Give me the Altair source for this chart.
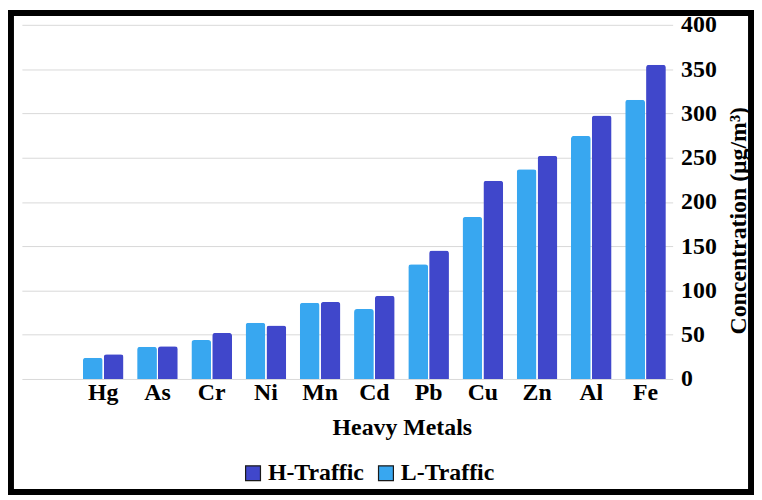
import altair as alt
import pandas as pd

metals = ["Hg", "As", "Cr", "Ni", "Mn", "Cd", "Pb", "Cu", "Zn", "Al", "Fe"]
l_traffic = [24, 36.5, 44, 63.5, 86, 79, 129.5, 183, 237, 274.5, 315.5]
h_traffic = [28, 37, 52, 60.5, 87, 94, 145, 224, 252, 297.5, 355]
series = ["H-Traffic", "L-Traffic"]
colors = ["#4047CB", "#38A7F0"]
y_ticks = [0, 50, 100, 150, 200, 250, 300, 350, 400]

rows = []
for m, lv, hv in zip(metals, l_traffic, h_traffic):
    rows.append({"metal": m, "series": "L-Traffic", "value": lv})
    rows.append({"metal": m, "series": "H-Traffic", "value": hv})
df = pd.DataFrame(rows)

FONT = "Liberation Serif"
FS = 24

bars = alt.Chart(df).mark_bar(cornerRadiusTopLeft=3, cornerRadiusTopRight=3).encode(
    x=alt.X(
        "metal:N",
        sort=None,
        scale=alt.Scale(domain=[""] + metals, paddingInner=0.25, paddingOuter=0.125),
        axis=alt.Axis(
            title="Heavy Metals",
            labelAngle=0,
            ticks=False,
            tickSize=0,
            domain=False,
            grid=False,
            labelFont=FONT,
            labelFontSize=FS,
            labelFontWeight="bold",
            labelColor="black",
            labelBaseline="alphabetic",
            labelPadding=21,
            titleFont=FONT,
            titleFontSize=FS,
            titleFontWeight="bold",
            titleColor="black",
            titleBaseline="alphabetic",
            titleX=383,
            titleY=56,
        ),
    ),
    xOffset=alt.XOffset(
        "series:N",
        scale=alt.Scale(domain=["L-Traffic", "H-Traffic"], paddingInner=0.05),
    ),
    y=alt.Y(
        "value:Q",
        scale=alt.Scale(domain=[0, 400], nice=False),
        axis=alt.Axis(
            orient="right",
            values=y_ticks,
            title="Concentration (μg/m³)",
            ticks=False,
            tickSize=0,
            domain=False,
            grid=True,
            gridColor="#d9d9d9",
            gridWidth=1,
            labelFont=FONT,
            labelFontSize=FS,
            labelFontWeight="bold",
            labelColor="black",
            labelPadding=8,
            titleFont=FONT,
            titleFontSize=FS,
            titleFontWeight="bold",
            titleColor="black",
            titleAngle=270,
            titleBaseline="alphabetic",
            titleX=73,
            titleY=197,
        ),
    ),
    color=alt.Color(
        "series:N",
        scale=alt.Scale(domain=series, range=colors),
        legend=alt.Legend(
            title=None,
            orient="none",
            legendX=221,
            legendY=440,
            direction="horizontal",
            symbolType="square",
            symbolSize=225,
            symbolStrokeColor="#1a1a1a",
            symbolStrokeWidth=1.2,
            labelFont=FONT,
            labelFontSize=FS,
            labelFontWeight="bold",
            labelColor="black",
            labelOffset=3,
            columnPadding=10,
            padding=0,
        ),
    ),
)

frame = alt.Chart(alt.Data(values=[{"a": 1}])).mark_rect(
    fillOpacity=0, stroke="black", strokeWidth=6
).encode(
    x=alt.value(-11), x2=alt.value(735), y=alt.value(-12), y2=alt.value(471)
)

chart = alt.layer(bars, frame).properties(
    width=656,
    height=357,
    autosize=alt.AutoSizeParams(type="none"),
    padding={"left": 14, "top": 15, "right": 82, "bottom": 117},
    background="white",
).configure_view(stroke=None)

chart.save("out.html", embed_options={"renderer": "svg", "actions": False})
